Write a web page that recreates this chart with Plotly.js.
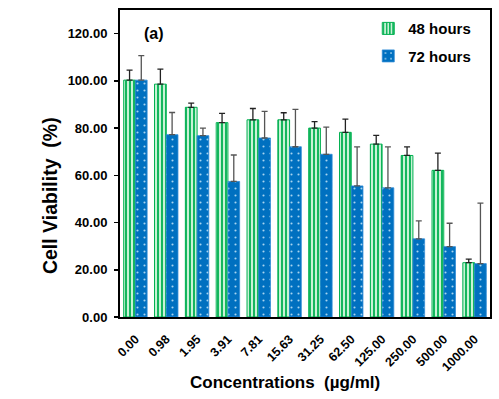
<!DOCTYPE html>
<html>
<head>
<meta charset="utf-8">
<script src="https://cdn.plot.ly/plotly-3.0.1.min.js"></script>
<style>html,body{margin:0;padding:0;background:#fff}#chart{width:499px;height:399px}</style>
</head>
<body>
<div id="chart"></div>
<script>
const categories = ["0.00","0.98","1.95","3.91","7.81","15.63","31.25","62.50","125.00","250.00","500.00","1000.00"];
const values48 = [100.3, 98.6, 88.8, 82.3, 83.5, 83.5, 80.0, 78.2, 73.2, 68.4, 62.1, 23.0];
const err48 = [4.2, 6.4, 1.8, 3.9, 4.8, 3.0, 2.7, 5.6, 3.7, 3.6, 7.3, 1.5];
const values72 = [100.3, 77.2, 76.8, 57.4, 75.8, 72.1, 68.9, 55.5, 54.7, 33.1, 29.8, 22.6];
const err72 = [10.4, 9.4, 3.2, 11.2, 11.3, 15.8, 11.5, 16.5, 17.3, 7.6, 9.9, 25.6];
const zeros = categories.map(() => 0);
const xTitle = "Concentrations&nbsp;&nbsp;(µg/ml)";
const yTitle = "Cell Viability&nbsp;&nbsp;(%)";

const fontFam = "Liberation Sans, Arial, sans-serif";

const traces = [
  {
    type: "bar", name: "48 hours", x: categories, y: values48, legendgroup: "g48",
    marker: {
      color: "#8FE3AE",
      line: {color: "#00B050", width: 1},
      pattern: {shape: "|", fgcolor: "#00B050", bgcolor: "#C8F2D6", size: 4, solidity: 0.45}
    },
    error_y: {type: "data", array: err48, arrayminus: zeros, symmetric: false, color: "#222", thickness: 1.3, width: 3}
  },
  {
    type: "bar", name: "72 hours", x: categories, y: values72, legendgroup: "g72",
    marker: {
      color: "#0070C0",
      line: {color: "#2E8AD6", width: 0.8},
      pattern: {shape: ".", fgcolor: "#A8D4F0", bgcolor: "#0070C0", size: 7, solidity: 0.07}
    },
    error_y: {type: "data", array: err72, arrayminus: zeros, symmetric: false, color: "#555", thickness: 1.3, width: 3}
  }
];

const layout = {
  width: 499, height: 399,
  margin: {l: 120, r: 9, t: 10, b: 82},
  paper_bgcolor: "#fff", plot_bgcolor: "#fff",
  font: {family: fontFam, color: "#000"},
  barmode: "group", bargap: 0.24, bargroupgap: 0,
  showlegend: true,
  legend: {x: 0.671, y: 0.993, xanchor: "left", yanchor: "top", bgcolor: "rgba(0,0,0,0)",
           font: {size: 15, family: fontFam, weight: "bold"}, itemwidth: 30, tracegroupgap: 5},
  xaxis: {
    type: "category", tickangle: -45, showline: true, linecolor: "#000", linewidth: 2, mirror: true,
    ticks: "", ticklabelstandoff: 8, tickfont: {size: 12.5, family: fontFam, weight: "bold", color: "#000"}
  },
  yaxis: {
    range: [0, 130], tickvals: [0,20,40,60,80,100,120], tickformat: ".2f",
    showgrid: false, zeroline: false, showline: true, linecolor: "#000", linewidth: 2, mirror: true,
    ticks: "outside", ticklen: 4, tickwidth: 1.5, tickcolor: "#000", ticklabelstandoff: 4,
    tickfont: {size: 13, family: fontFam, weight: "bold", color: "#000"}
  },
  annotations: [
    {text: "<b>(a)</b>", xref: "paper", yref: "paper", x: 0.06, y: 0.925, xanchor: "left", yanchor: "middle",
     showarrow: false, font: {size: 16, family: fontFam, color: "#000"}},
    {text: "<b>" + yTitle + "</b>", xref: "paper", yref: "paper", x: -0.189, y: 0.394, xanchor: "center", yanchor: "middle",
     textangle: -90, showarrow: false, font: {size: 19.5, family: fontFam, color: "#000"}},
    {text: "<b>" + xTitle + "</b>", xref: "paper", yref: "paper", x: 0.447, y: -0.212, xanchor: "center", yanchor: "middle",
     showarrow: false, font: {size: 17, family: fontFam, color: "#000"}}
  ]
};

Plotly.newPlot("chart", traces, layout, {displayModeBar: false, staticPlot: true});
</script>
</body>
</html>
